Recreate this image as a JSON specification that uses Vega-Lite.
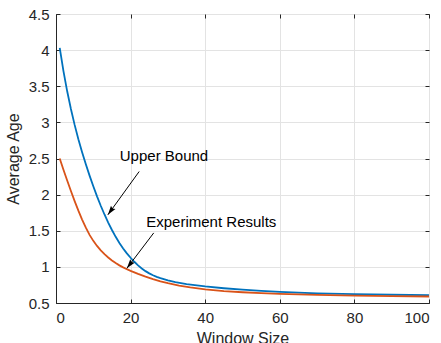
{
  "$schema": "https://vega.github.io/schema/vega-lite/v6.json",
  "width": 373,
  "height": 289,
  "autosize": "none",
  "padding": {"left": 56, "top": 14, "right": 12, "bottom": 40},
  "background": "white",
  "config": {
    "font": "Liberation Sans",
    "view": {"stroke": "#262626", "strokeWidth": 1},
    "axis": {
      "grid": true, "gridColor": "#e3e3e3", "gridWidth": 1,
      "domainColor": "#262626", "tickColor": "#262626", "labelColor": "#262626", "titleColor": "#262626",
      "labelFont": "Liberation Sans", "titleFont": "Liberation Sans",
      "labelFontSize": 15, "titleFontSize": 16, "titleFontWeight": "normal",
      "domainWidth": 1, "tickWidth": 1
    }
  },
  "datasets": {
    "curves": [
      {"series": "Upper Bound", "x": 1, "y": 4.03},
      {"series": "Upper Bound", "x": 2, "y": 3.71},
      {"series": "Upper Bound", "x": 3, "y": 3.43},
      {"series": "Upper Bound", "x": 4, "y": 3.185},
      {"series": "Upper Bound", "x": 5, "y": 2.965},
      {"series": "Upper Bound", "x": 6, "y": 2.768},
      {"series": "Upper Bound", "x": 7, "y": 2.588},
      {"series": "Upper Bound", "x": 8, "y": 2.42},
      {"series": "Upper Bound", "x": 9, "y": 2.263},
      {"series": "Upper Bound", "x": 10, "y": 2.115},
      {"series": "Upper Bound", "x": 11, "y": 1.976},
      {"series": "Upper Bound", "x": 12, "y": 1.846},
      {"series": "Upper Bound", "x": 13, "y": 1.725},
      {"series": "Upper Bound", "x": 14, "y": 1.613},
      {"series": "Upper Bound", "x": 15, "y": 1.51},
      {"series": "Upper Bound", "x": 16, "y": 1.416},
      {"series": "Upper Bound", "x": 17, "y": 1.331},
      {"series": "Upper Bound", "x": 18, "y": 1.255},
      {"series": "Upper Bound", "x": 19, "y": 1.187},
      {"series": "Upper Bound", "x": 20, "y": 1.126},
      {"series": "Upper Bound", "x": 21, "y": 1.071},
      {"series": "Upper Bound", "x": 22, "y": 1.021},
      {"series": "Upper Bound", "x": 23, "y": 0.978},
      {"series": "Upper Bound", "x": 24, "y": 0.941},
      {"series": "Upper Bound", "x": 25, "y": 0.91},
      {"series": "Upper Bound", "x": 26, "y": 0.884},
      {"series": "Upper Bound", "x": 27, "y": 0.862},
      {"series": "Upper Bound", "x": 28, "y": 0.843},
      {"series": "Upper Bound", "x": 30, "y": 0.812},
      {"series": "Upper Bound", "x": 32, "y": 0.788},
      {"series": "Upper Bound", "x": 35, "y": 0.76},
      {"series": "Upper Bound", "x": 40, "y": 0.729},
      {"series": "Upper Bound", "x": 45, "y": 0.704},
      {"series": "Upper Bound", "x": 50, "y": 0.684},
      {"series": "Upper Bound", "x": 55, "y": 0.668},
      {"series": "Upper Bound", "x": 60, "y": 0.654},
      {"series": "Upper Bound", "x": 70, "y": 0.634},
      {"series": "Upper Bound", "x": 80, "y": 0.622},
      {"series": "Upper Bound", "x": 90, "y": 0.614},
      {"series": "Upper Bound", "x": 100, "y": 0.609},
      {"series": "Experiment Results", "x": 1, "y": 2.5},
      {"series": "Experiment Results", "x": 2, "y": 2.345},
      {"series": "Experiment Results", "x": 3, "y": 2.195},
      {"series": "Experiment Results", "x": 4, "y": 2.05},
      {"series": "Experiment Results", "x": 5, "y": 1.91},
      {"series": "Experiment Results", "x": 6, "y": 1.778},
      {"series": "Experiment Results", "x": 7, "y": 1.655},
      {"series": "Experiment Results", "x": 8, "y": 1.542},
      {"series": "Experiment Results", "x": 9, "y": 1.443},
      {"series": "Experiment Results", "x": 10, "y": 1.36},
      {"series": "Experiment Results", "x": 11, "y": 1.29},
      {"series": "Experiment Results", "x": 12, "y": 1.229},
      {"series": "Experiment Results", "x": 13, "y": 1.176},
      {"series": "Experiment Results", "x": 14, "y": 1.13},
      {"series": "Experiment Results", "x": 15, "y": 1.089},
      {"series": "Experiment Results", "x": 16, "y": 1.053},
      {"series": "Experiment Results", "x": 17, "y": 1.021},
      {"series": "Experiment Results", "x": 18, "y": 0.993},
      {"series": "Experiment Results", "x": 19, "y": 0.968},
      {"series": "Experiment Results", "x": 20, "y": 0.945},
      {"series": "Experiment Results", "x": 22, "y": 0.902},
      {"series": "Experiment Results", "x": 24, "y": 0.864},
      {"series": "Experiment Results", "x": 26, "y": 0.83},
      {"series": "Experiment Results", "x": 28, "y": 0.8},
      {"series": "Experiment Results", "x": 30, "y": 0.774},
      {"series": "Experiment Results", "x": 33, "y": 0.742},
      {"series": "Experiment Results", "x": 36, "y": 0.715},
      {"series": "Experiment Results", "x": 40, "y": 0.688},
      {"series": "Experiment Results", "x": 45, "y": 0.665},
      {"series": "Experiment Results", "x": 50, "y": 0.649},
      {"series": "Experiment Results", "x": 55, "y": 0.637},
      {"series": "Experiment Results", "x": 60, "y": 0.627},
      {"series": "Experiment Results", "x": 70, "y": 0.613},
      {"series": "Experiment Results", "x": 80, "y": 0.603},
      {"series": "Experiment Results", "x": 90, "y": 0.596},
      {"series": "Experiment Results", "x": 100, "y": 0.59}
    ],
    "notes": [
      {"label": "Upper Bound", "x": 17.1, "y": 2.54, "x2": 22.3, "y2": 2.32, "hx": 13.9, "hy": 1.72},
      {"label": "Experiment Results", "x": 24.2, "y": 1.62, "x2": 26.2, "y2": 1.47, "hx": 19.0, "hy": 0.98}
    ]
  },
  "resolve": {"axis": {"x": "independent", "y": "independent"}},
  "layer": [
    {
      "data": {"name": "curves"},
      "mark": {"type": "line", "strokeWidth": 1.8, "clip": true},
      "encoding": {
        "x": {"field": "x", "type": "quantitative", "scale": {"domain": [0, 100], "nice": false},
              "axis": {"values": [0, 20, 40, 60, 80, 100], "format": "d", "title": "Window Size", "ticks": false, "labelPadding": 7, "titlePadding": 5}},
        "y": {"field": "y", "type": "quantitative", "scale": {"domain": [0.5, 4.5], "nice": false, "zero": false},
              "axis": {"values": [0.5, 1, 1.5, 2, 2.5, 3, 3.5, 4, 4.5], "format": ".1~f", "title": "Average Age", "ticks": false, "labelPadding": 7, "titlePadding": 7}},
        "color": {"field": "series", "type": "nominal", "scale": {"domain": ["Upper Bound", "Experiment Results"], "range": ["#0072BD", "#D95319"]}, "legend": null}
      }
    },
    {
      "data": {"name": "curves"},
      "mark": {"type": "point", "opacity": 0},
      "encoding": {
        "x": {"field": "x", "type": "quantitative", "axis": {"orient": "top", "values": [0, 20, 40, 60, 80, 100], "labels": false, "title": null, "grid": false, "domain": false, "offset": -4, "tickSize": 4}},
        "y": {"field": "y", "type": "quantitative", "axis": {"orient": "right", "values": [0.5, 1, 1.5, 2, 2.5, 3, 3.5, 4, 4.5], "labels": false, "title": null, "grid": false, "domain": false, "offset": -4, "tickSize": 4}}
      }
    },
    {
      "data": {"name": "curves"},
      "mark": {"type": "point", "opacity": 0},
      "encoding": {
        "x": {"field": "x", "type": "quantitative", "axis": {"orient": "bottom", "values": [0, 20, 40, 60, 80, 100], "labels": false, "title": null, "grid": false, "domain": false, "offset": -4, "tickSize": 4}},
        "y": {"field": "y", "type": "quantitative", "axis": {"orient": "left", "values": [0.5, 1, 1.5, 2, 2.5, 3, 3.5, 4, 4.5], "labels": false, "title": null, "grid": false, "domain": false, "offset": -4, "tickSize": 4}}
      }
    },
    {
      "data": {"name": "notes"},
      "mark": {"type": "rule", "color": "black", "strokeWidth": 1},
      "encoding": {
        "x": {"field": "x2", "type": "quantitative", "axis": null},
        "y": {"field": "y2", "type": "quantitative", "axis": null},
        "x2": {"field": "hx"},
        "y2": {"field": "hy"}
      }
    },
    {
      "data": {"name": "notes"},
      "transform": [{"filter": "datum.label == 'Upper Bound'"}],
      "mark": {"type": "point", "shape": "M0,0 L-0.3,1 L0,0.85 L0.3,1 Z", "filled": true, "color": "black", "opacity": 1, "size": 340, "angle": 215.8, "strokeWidth": 0},
      "encoding": {
        "x": {"field": "hx", "type": "quantitative", "axis": null},
        "y": {"field": "hy", "type": "quantitative", "axis": null}
      }
    },
    {
      "data": {"name": "notes"},
      "transform": [{"filter": "datum.label == 'Experiment Results'"}],
      "mark": {"type": "point", "shape": "M0,0 L-0.3,1 L0,0.85 L0.3,1 Z", "filled": true, "color": "black", "opacity": 1, "size": 340, "angle": 217.2, "strokeWidth": 0},
      "encoding": {
        "x": {"field": "hx", "type": "quantitative", "axis": null},
        "y": {"field": "hy", "type": "quantitative", "axis": null}
      }
    },
    {
      "data": {"name": "notes"},
      "mark": {"type": "text", "align": "left", "baseline": "middle", "fontSize": 15, "font": "Liberation Sans", "color": "black"},
      "encoding": {
        "x": {"field": "x", "type": "quantitative", "axis": null},
        "y": {"field": "y", "type": "quantitative", "axis": null},
        "text": {"field": "label"}
      }
    }
  ]
}
